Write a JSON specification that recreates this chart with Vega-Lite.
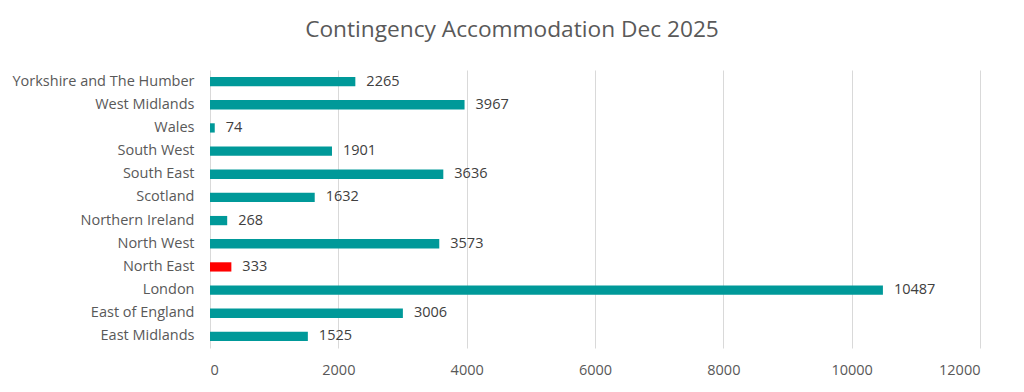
{
  "$schema": "https://vega.github.io/schema/vega-lite/v6.json",
  "autosize": {"type": "none"},
  "padding": {"left": 210, "top": 70, "right": 44, "bottom": 44},
  "width": 770,
  "height": 278,
  "background": "white",
  "title": {
    "text": "Contingency Accommodation Dec 2025",
    "anchor": "middle",
    "dx": -83,
    "offset": 28,
    "font": "Open Sans",
    "fontSize": 22.7,
    "fontWeight": "normal",
    "color": "#595959"
  },
  "data": {
    "values": [
      {"region": "Yorkshire and The Humber", "value": 2265, "hl": "no"},
      {"region": "West Midlands", "value": 3967, "hl": "no"},
      {"region": "Wales", "value": 74, "hl": "no"},
      {"region": "South West", "value": 1901, "hl": "no"},
      {"region": "South East", "value": 3636, "hl": "no"},
      {"region": "Scotland", "value": 1632, "hl": "no"},
      {"region": "Northern Ireland", "value": 268, "hl": "no"},
      {"region": "North West", "value": 3573, "hl": "no"},
      {"region": "North East", "value": 333, "hl": "yes"},
      {"region": "London", "value": 10487, "hl": "no"},
      {"region": "East of England", "value": 3006, "hl": "no"},
      {"region": "East Midlands", "value": 1525, "hl": "no"}
    ]
  },
  "encoding": {
    "y": {
      "field": "region",
      "type": "nominal",
      "sort": null,
      "title": null,
      "scale": {"paddingInner": 0.6, "paddingOuter": 0.3},
      "axis": {
        "ticks": false,
        "domain": false,
        "labelFont": "Open Sans",
        "labelFontSize": 14.5,
        "labelColor": "#595959",
        "labelPadding": 16,
        "labelLimit": 300
      }
    },
    "x": {
      "field": "value",
      "type": "quantitative",
      "title": null,
      "scale": {"domain": [0, 12000], "nice": false},
      "axis": {
        "values": [0, 2000, 4000, 6000, 8000, 10000, 12000],
        "format": "d",
        "ticks": false,
        "domain": false,
        "grid": true,
        "gridColor": "#d9d9d9",
        "labelFont": "Open Sans",
        "labelFontSize": 14.5,
        "labelColor": "#595959",
        "labelPadding": 15
      }
    }
  },
  "layer": [
    {
      "mark": {"type": "bar"},
      "encoding": {
        "color": {
          "field": "hl",
          "type": "nominal",
          "scale": {"domain": ["no", "yes"], "range": ["#009999", "#ff0000"]},
          "legend": null
        }
      }
    },
    {
      "mark": {"type": "text", "align": "left", "baseline": "middle", "dx": 11, "font": "Open Sans", "fontSize": 14.5, "color": "#404040"},
      "encoding": {"text": {"field": "value", "type": "quantitative", "format": "d"}}
    }
  ],
  "config": {"view": {"stroke": null}}
}
